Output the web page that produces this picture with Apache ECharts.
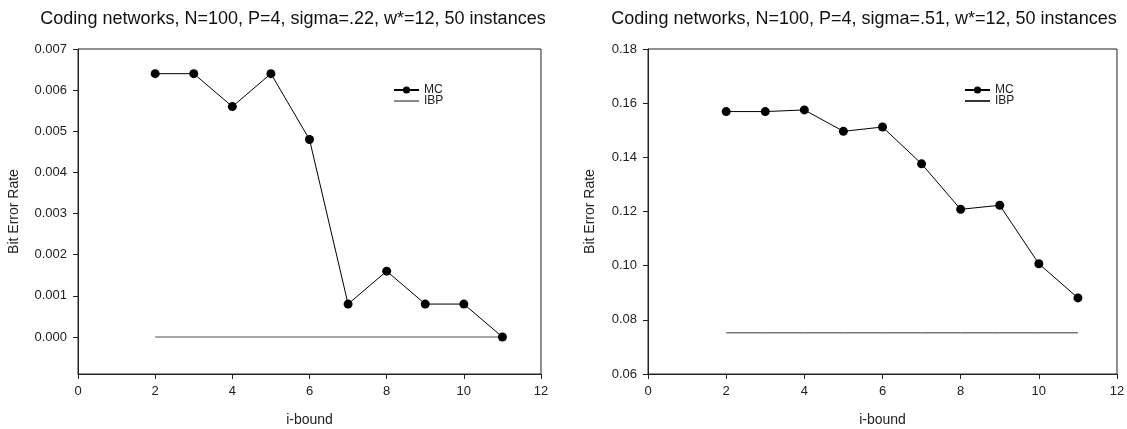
<!DOCTYPE html>
<html>
<head>
<meta charset="utf-8">
<script src="https://cdn.jsdelivr.net/npm/echarts@6/dist/echarts.min.js"></script>
<style>
html,body{margin:0;padding:0;background:#fff;}
#chart{width:1127px;height:429px;}
</style>
</head>
<body>
<div id="chart"></div>
<script>
const iBound = [2, 3, 4, 5, 6, 7, 8, 9, 10, 11];
const mcLeft = [0.0064, 0.0064, 0.0056, 0.0064, 0.0048, 0.0008, 0.0016, 0.0008, 0.0008, 0.0000];
const ibpLeft = [0, 0, 0, 0, 0, 0, 0, 0, 0, 0];
const mcRight = [0.1569, 0.1569, 0.1575, 0.1496, 0.1512, 0.1376, 0.1208, 0.1223, 0.1007, 0.0881];
const ibpRight = [0.0752, 0.0752, 0.0752, 0.0752, 0.0752, 0.0752, 0.0752, 0.0752, 0.0752, 0.0752];
const xTicks = [0, 2, 4, 6, 8, 10, 12];
const yTicksLeft = [0, 0.001, 0.002, 0.003, 0.004, 0.005, 0.006, 0.007];
const yTicksRight = [0.06, 0.08, 0.10, 0.12, 0.14, 0.16, 0.18];
const titleLeft = 'Coding networks, N=100, P=4, sigma=.22, w*=12, 50 instances';
const titleRight = 'Coding networks, N=100, P=4, sigma=.51, w*=12, 50 instances';

const FONT = 'Liberation Sans, Arial, sans-serif';
const AX = '#222';
const pairs = (ys) => iBound.map((x, i) => [x, ys[i]]);

function xAxis(gi) {
  return {
    type: 'value', gridIndex: gi, min: 0, max: 12, interval: 2,
    name: 'i-bound', nameLocation: 'middle', nameGap: 39,
    nameTextStyle: {fontFamily: FONT, fontSize: 14, color: AX},
    axisLine: {show: true, onZero: false, lineStyle: {color: AX, width: 1}},
    axisTick: {show: true, inside: false, length: 5, lineStyle: {color: AX}, customValues: xTicks},
    axisLabel: {fontFamily: FONT, fontSize: 13, color: AX, margin: 11, customValues: xTicks},
    splitLine: {show: false}
  };
}
function yAxis(gi, min, max, ticks, dec, gap) {
  return {
    type: 'value', gridIndex: gi, min: min, max: max,
    name: 'Bit Error Rate', nameLocation: 'middle', nameGap: gap, nameRotate: 90,
    nameTextStyle: {fontFamily: FONT, fontSize: 14, color: AX},
    axisLine: {show: true, onZero: false, lineStyle: {color: AX, width: 1}},
    axisTick: {show: true, inside: false, length: 5, lineStyle: {color: AX}, customValues: ticks},
    axisLabel: {fontFamily: FONT, fontSize: 13, color: AX, margin: 11, customValues: ticks,
      formatter: (v) => Number(v).toFixed(dec)},
    splitLine: {show: false}
  };
}
function legend(left, mcName, ibpName) {
  return {
    orient: 'vertical', left: left, top: 79, itemWidth: 25, itemHeight: 9, itemGap: -1,
    textStyle: {fontFamily: FONT, fontSize: 12, color: AX},
    data: [{name: mcName}, {name: ibpName, itemStyle: {opacity: 0}}]
  };
}

const chart = echarts.init(document.getElementById('chart'), null, {renderer: 'canvas'});
chart.setOption({
  backgroundColor: '#fff',
  animation: false,
  title: [
    {text: titleLeft, left: 288, top: 5, textAlign: 'center',
     textStyle: {fontFamily: FONT, fontSize: 18, fontWeight: 'normal', color: '#111'}},
    {text: titleRight, left: 859, top: 5, textAlign: 'center',
     textStyle: {fontFamily: FONT, fontSize: 18, fontWeight: 'normal', color: '#111'}}
  ],
  grid: [
    {left: 78, top: 49, width: 463, height: 325, show: true, borderColor: AX, borderWidth: 1,
     containLabel: false, outerBoundsMode: 'none'},
    {left: 648, top: 49, width: 469, height: 325, show: true, borderColor: AX, borderWidth: 1,
     containLabel: false, outerBoundsMode: 'none'}
  ],
  legend: [legend(388, 'MC', 'IBP'), legend(959, 'MC ', 'IBP ')],
  xAxis: [xAxis(0), xAxis(1)],
  yAxis: [
    yAxis(0, -0.0009, 0.007, yTicksLeft, 3, 57),
    yAxis(1, 0.06, 0.18, yTicksRight, 2, 51)
  ],
  series: [
    {name: 'IBP', type: 'line', xAxisIndex: 0, yAxisIndex: 0, data: pairs(ibpLeft),
     symbol: 'none', lineStyle: {color: '#8a8a8a', width: 1.5}, itemStyle: {color: '#8a8a8a'}, z: 2},
    {name: 'MC', type: 'line', xAxisIndex: 0, yAxisIndex: 0, data: pairs(mcLeft),
     symbol: 'circle', symbolSize: 9, lineStyle: {color: '#000', width: 1}, itemStyle: {color: '#000'}, z: 3},
    {name: 'IBP ', type: 'line', xAxisIndex: 1, yAxisIndex: 1, data: pairs(ibpRight),
     symbol: 'none', lineStyle: {color: '#333', width: 1}, itemStyle: {color: '#333'}, z: 2},
    {name: 'MC ', type: 'line', xAxisIndex: 1, yAxisIndex: 1, data: pairs(mcRight),
     symbol: 'circle', symbolSize: 9, lineStyle: {color: '#000', width: 1}, itemStyle: {color: '#000'}, z: 3}
  ]
});
</script>
</body>
</html>
